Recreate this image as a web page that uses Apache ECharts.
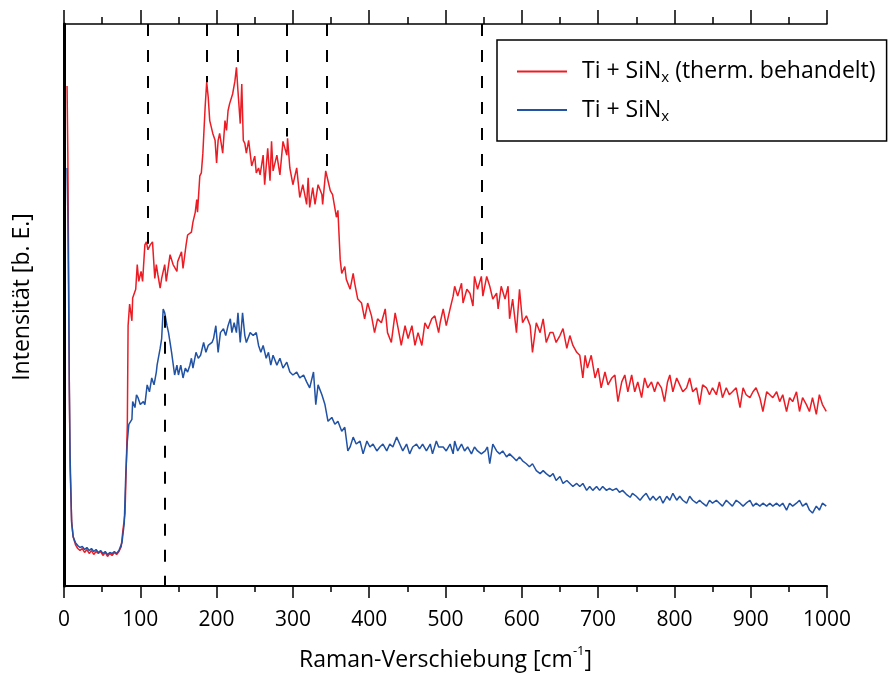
<!DOCTYPE html>
<html>
<head>
<meta charset="utf-8">
<script src="https://cdn.jsdelivr.net/npm/echarts@6/dist/echarts.min.js"></script>
<style>html,body{margin:0;padding:0;background:#fff}#c{width:896px;height:680px}</style>
</head>
<body>
<div id="c"></div>
<script>
// Raman shift [cm^-1] / intensity [arb. units]
const redSpectrum = [
[4,507],[5,440],[6,330],[7,200],[8,120],[10,66],[12,50],[15,42],
[18,38],[21,36],[24,38],[27,34],[30,37],[33,33],[36,36],[39,32],[42,35],[45,33],[48,35],[51,31],[54,34],[57,30],[60,33],[63,31],[66,34],[69,32],[72,35],[75,40],[77,55],[80,74],[83,164],[84,264],[86,286],[89,269],[90,292],[94,301],[96,326],[98,309],[101,319],[103,309],[106,346],[108,349],[110,341],[113,346],[116,349],[119,312],[121,326],[123,316],[126,302],[128,312],[132,326],[134,309],[139,336],[143,326],[148,319],[149,329],[154,339],[156,322],[160,346],[162,356],[167,359],[169,369],[172,379],[174,392],[175,379],[178,416],[180,419],[182,439],[185,486],[187,511],[189,496],[191,472],[195,459],[198,452],[200,429],[202,452],[204,459],[208,439],[211,472],[213,462],[215,482],[217,489],[221,499],[224,512],[226,526],[228,502],[231,469],[233,509],[235,452],[237,449],[239,439],[242,452],[246,426],[250,436],[252,419],[255,424],[257,417],[261,437],[263,407],[267,444],[270,411],[272,451],[274,421],[279,437],[283,417],[287,451],[292,437],[293,454],[296,424],[300,407],[305,424],[309,394],[313,407],[318,387],[320,414],[322,384],[326,404],[329,387],[333,407],[338,397],[339,387],[343,421],[346,411],[349,401],[352,397],[357,374],[359,381],[362,331],[364,317],[368,324],[370,311],[375,301],[379,317],[381,307],[385,291],[390,287],[394,271],[398,287],[403,274],[407,257],[411,271],[416,267],[421,281],[424,257],[429,247],[434,277],[438,261],[442,244],[447,264],[451,251],[456,264],[460,244],[464,257],[469,244],[473,267],[477,261],[482,271],[486,274],[491,257],[493,267],[497,281],[501,264],[506,281],[510,294],[512,304],[516,294],[521,307],[523,287],[528,301],[532,297],[536,284],[538,314],[542,301],[547,314],[549,294],[554,314],[558,304],[562,291],[567,297],[569,281],[573,304],[578,291],[582,304],[584,271],[588,291],[593,257],[597,301],[601,267],[606,274],[611,264],[614,237],[619,267],[624,257],[628,271],[632,247],[637,257],[641,257],[645,247],[650,254],[654,261],[659,241],[663,254],[667,244],[672,237],[676,234],[680,211],[683,234],[686,221],[691,234],[696,211],[700,221],[704,201],[709,217],[713,204],[718,211],[722,214],[726,187],[731,207],[735,214],[739,197],[744,214],[748,197],[752,207],[757,191],[761,211],[765,201],[770,207],[774,197],[778,207],[783,201],[787,187],[791,207],[794,214],[798,197],[803,211],[807,204],[811,197],[816,201],[820,211],[824,197],[829,201],[833,184],[837,204],[842,201],[846,194],[850,201],[855,194],[859,207],[863,191],[868,201],[872,194],[876,197],[881,201],[886,181],[890,201],[894,194],[899,191],[903,197],[907,201],[912,191],[916,177],[921,197],[925,194],[929,191],[934,197],[938,187],[942,194],[947,177],[951,191],[955,187],[960,197],[964,177],[968,191],[973,184],[977,177],[981,191],[986,174],[990,194],[994,184],[999,177]
];
const blueSpectrum = [
[4,424],[5,380],[6,300],[7,200],[8,131],[10,64],[12,50],[15,44],
[18,41],[21,39],[24,40],[27,37],[30,39],[33,36],[36,38],[39,35],[42,37],[45,34],[48,36],[51,33],[54,35],[57,32],[60,34],[63,33],[66,35],[69,33],[72,36],[74,40],[76,44],[79,64],[81,114],[83,147],[85,164],[89,169],[90,187],[93,181],[95,194],[97,191],[100,184],[104,187],[106,184],[109,204],[112,197],[115,211],[118,204],[121,217],[122,224],[126,241],[128,251],[130,281],[132,277],[135,264],[137,257],[139,247],[141,237],[145,214],[148,224],[150,214],[153,224],[156,211],[159,221],[162,217],[165,224],[167,231],[169,221],[173,237],[176,231],[179,234],[183,247],[186,237],[189,244],[194,247],[196,251],[199,264],[202,237],[205,257],[209,261],[212,254],[215,264],[218,271],[220,257],[223,267],[226,257],[228,277],[231,247],[234,277],[237,254],[239,247],[244,257],[248,254],[252,257],[255,244],[258,237],[261,244],[265,231],[268,237],[271,224],[274,234],[279,224],[283,231],[287,221],[292,227],[296,217],[300,214],[305,217],[309,211],[314,214],[318,207],[322,201],[327,217],[330,184],[333,204],[338,194],[342,184],[346,167],[351,171],[355,164],[359,167],[364,157],[368,161],[372,137],[375,141],[379,151],[383,144],[388,147],[392,134],[397,147],[401,141],[405,144],[410,137],[414,141],[418,144],[423,137],[427,144],[431,141],[436,151],[440,144],[444,137],[449,144],[453,134],[457,141],[462,144],[466,139],[470,144],[475,137],[480,144],[483,134],[488,147],[491,141],[497,141],[501,137],[506,144],[510,134],[512,147],[516,137],[521,144],[525,137],[529,141],[534,134],[538,141],[542,137],[547,134],[552,137],[555,141],[558,124],[562,144],[567,137],[571,134],[575,137],[580,131],[584,134],[588,131],[593,127],[597,131],[601,127],[606,124],[610,121],[614,124],[619,117],[624,114],[628,117],[632,114],[637,111],[641,114],[645,107],[650,111],[654,104],[659,107],[663,104],[667,101],[672,104],[676,101],[680,104],[685,97],[689,101],[693,97],[698,101],[702,97],[706,101],[711,97],[715,99],[719,97],[724,99],[728,95],[732,97],[737,93],[742,90],[745,94],[750,91],[755,87],[759,91],[763,94],[768,87],[772,91],[776,87],[781,91],[785,84],[790,91],[794,87],[798,94],[803,87],[807,91],[811,87],[816,84],[820,91],[824,87],[829,84],[833,87],[837,84],[842,81],[846,87],[850,84],[855,87],[859,84],[863,81],[868,87],[872,84],[876,81],[881,87],[886,84],[890,81],[894,84],[899,87],[903,81],[907,84],[912,81],[916,84],[921,81],[925,84],[929,81],[934,84],[938,81],[942,84],[947,77],[951,84],[955,81],[960,84],[964,87],[968,81],[973,84],[977,77],[981,74],[986,81],[990,77],[994,84],[999,81]
];
// marked peak positions and where the guide lines meet the curves
const redPeakShifts = [110, 187, 228, 292, 344, 548];
const redPeakLevels = [347, 511, 529, 456, 424, 316];
const bluePeakShifts = [132];
const bluePeakLevels = [274];
const xTicks = [0, 1000, 100];
const yRange = [0, 570];
const seriesNames = ['Ti + SiNx (therm. behandelt)', 'Ti + SiNx'];

const FONT = 'Open Sans';
const chart = echarts.init(document.getElementById('c'), null, {renderer: 'canvas'});
const dash = [12, 14];
chart.setOption({
  animation: false,
  backgroundColor: '#fff',
  grid: {left: 64, right: 69, top: 24, bottom: 86},
  xAxis: [{
    type: 'value', min: xTicks[0], max: xTicks[1], interval: xTicks[2], position: 'bottom',
    axisLine: {show: true, onZero: false, lineStyle: {color: '#000', width: 2}},
    axisTick: {show: true, length: 12, lineStyle: {color: '#000', width: 1.5}},
    minorTick: {show: true, splitNumber: 2, length: 6, lineStyle: {color: '#000', width: 1.5}},
    splitLine: {show: false},
    axisLabel: {color: '#000', fontFamily: FONT, fontSize: 21, margin: 24, formatter: v => String(v)},
    name: 'Raman-Verschiebung [cm{sup|-1}]',
    nameLocation: 'middle', nameGap: 59,
    nameTextStyle: {color: '#000', fontFamily: FONT, fontSize: 23, lineHeight: 30,
      rich: {sup: {fontFamily: FONT, fontSize: 13, verticalAlign: 'top', lineHeight: 22, color: '#000'}}}
  }, {
    type: 'value', min: xTicks[0], max: xTicks[1], interval: xTicks[2], position: 'top',
    axisLine: {show: true, onZero: false, lineStyle: {color: '#000', width: 1.5}},
    axisTick: {show: true, length: 14, lineStyle: {color: '#000', width: 1.5}},
    minorTick: {show: true, splitNumber: 2, length: 7, lineStyle: {color: '#000', width: 1.5}},
    splitLine: {show: false},
    axisLabel: {show: false}
  }],
  yAxis: {
    type: 'value', min: yRange[0], max: yRange[1],
    axisLine: {show: true, onZero: false, lineStyle: {color: '#000', width: 3}},
    axisTick: {show: false}, axisLabel: {show: false}, splitLine: {show: false}
  },
  legend: {
    orient: 'vertical', left: 497, top: 40,
    padding: [20, 11, 17, 20], itemGap: 13,
    borderColor: '#000', borderWidth: 1.5, borderRadius: 0,
    itemWidth: 50, itemHeight: 14, icon: 'path://M0,6L50,6L50,8.2L0,8.2Z',
    data: seriesNames.map((n, i) => ({name: n, itemStyle: {color: i === 0 ? '#ec1c24' : '#2152a3'}})),
    formatter: function (name) {
      return name === seriesNames[0]
        ? '{t|Ti + SiN}{s|x}{t| (therm. behandelt)}'
        : '{t|Ti + SiN}{s|x}';
    },
    textStyle: {
      color: '#000', fontFamily: FONT, fontSize: 23, padding: [0, 0, 0, 10],
      rich: {
        t: {fontFamily: FONT, fontSize: 23, color: '#000', lineHeight: 28},
        s: {fontFamily: FONT, fontSize: 15, color: '#000', verticalAlign: 'bottom', lineHeight: 20}
      }
    }
  },
  graphic: [{
    type: 'text', x: 22, y: 297, rotation: Math.PI / 2,
    style: {text: 'Intensität [b. E.]', fill: '#000', font: '23px "' + FONT + '"', align: 'center', verticalAlign: 'middle'}
  }],
  series: [{
    name: seriesNames[0], type: 'line', xAxisIndex: 0, data: redSpectrum,
    showSymbol: false, symbol: 'none', color: '#ec1c24',
    lineStyle: {color: '#ec1c24', width: 1.5},
    markLine: {
      silent: true, symbol: ['none', 'none'], label: {show: false},
      lineStyle: {color: '#000', width: 2, type: dash},
      data: redPeakShifts.map((s, i) => [{coord: [s, yRange[1]]}, {coord: [s, redPeakLevels[i]]}])
    }
  }, {
    name: seriesNames[1], type: 'line', xAxisIndex: 0, data: blueSpectrum,
    showSymbol: false, symbol: 'none', color: '#2152a3',
    lineStyle: {color: '#2152a3', width: 1.5},
    markLine: {
      silent: true, symbol: ['none', 'none'], label: {show: false},
      lineStyle: {color: '#000', width: 2, type: dash},
      data: bluePeakShifts.map((s, i) => [{coord: [s, bluePeakLevels[i]]}, {coord: [s, yRange[0]]}])
    }
  }]
});
</script>
</body>
</html>
